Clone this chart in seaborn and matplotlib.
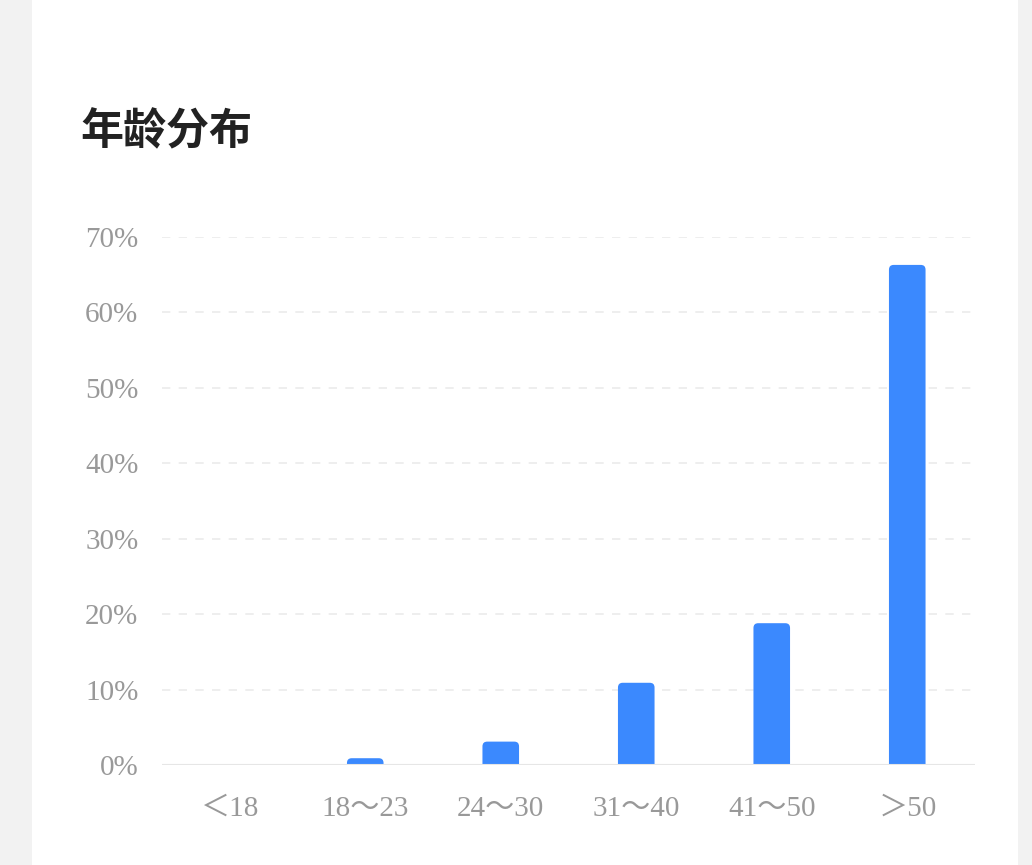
import matplotlib
matplotlib.use('Agg')
import matplotlib.pyplot as plt
import seaborn as sns
import pandas as pd
from matplotlib.patches import Rectangle, FancyBboxPatch

# data
age_groups = ['＜18', '18～23', '24～30', '31～40', '41～50', '＞50']
shares = [0.0, 0.9, 3.1, 10.9, 18.8, 66.3]
y_ticks = [0, 10, 20, 30, 40, 50, 60, 70]

df = pd.DataFrame({'age': age_groups, 'share': shares})

sns.set_theme(style='white')
plt.rcParams['font.family'] = ['Liberation Serif', 'Noto Sans CJK SC', 'DejaVu Sans']

fig = plt.figure(figsize=(10.32, 8.65), dpi=100)
fig.patch.set_facecolor('#f2f2f2')
# white card
fig.add_artist(Rectangle((32 / 1032, 0), (1018 - 32) / 1032, 1,
                         transform=fig.transFigure, facecolor='white',
                         edgecolor='none', zorder=0))

ax = fig.add_axes([162 / 1032, 1 - 765 / 865, (975 - 162) / 1032, (765 - 237) / 865])
ax.set_facecolor('none')

sns.barplot(data=df, x='age', y='share', color='#3b89fe', width=0.27,
            saturation=1, ax=ax, zorder=3)

ax.set_ylim(0, 70)
ax.set_xlim(-0.5, len(age_groups) - 0.5)

# swap plain bars for ones with rounded top corners (bottom hidden below 0)
aspect = (813 / 6) / (528 / 70)
for p in list(ax.patches):
    x, w, h = p.get_x(), p.get_width(), p.get_height()
    p.remove()
    if h <= 0:
        continue
    ax.add_patch(FancyBboxPatch((x, -3), w, h + 3,
                                boxstyle='round,pad=0,rounding_size=0.035',
                                mutation_aspect=aspect, facecolor='#3b89fe',
                                edgecolor='none', zorder=3))

ax.set_yticks(y_ticks)
ax.set_yticklabels([f'{t}%' for t in y_ticks])
for t in y_ticks[1:]:
    ax.axhline(t, color='#ebebeb', lw=1.2, ls=(0, (5, 5)), zorder=1)
ax.axhline(0, color='#e6e6e6', lw=1.5, zorder=4)

for s in ax.spines.values():
    s.set_visible(False)
ax.tick_params(axis='both', length=0, labelsize=21, labelcolor='#999999')
ax.tick_params(axis='y', pad=17)
ax.tick_params(axis='x', pad=22)
ax.set_xlabel('')
ax.set_ylabel('')

fig.text(80 / 1032, 1 - 131 / 865, '年龄分布', fontsize=31, fontweight='bold',
         color='#222222', va='center', ha='left',
         family=['Noto Sans CJK SC', 'DejaVu Sans'])

fig.savefig('out.png', dpi=100, facecolor=fig.get_facecolor())
